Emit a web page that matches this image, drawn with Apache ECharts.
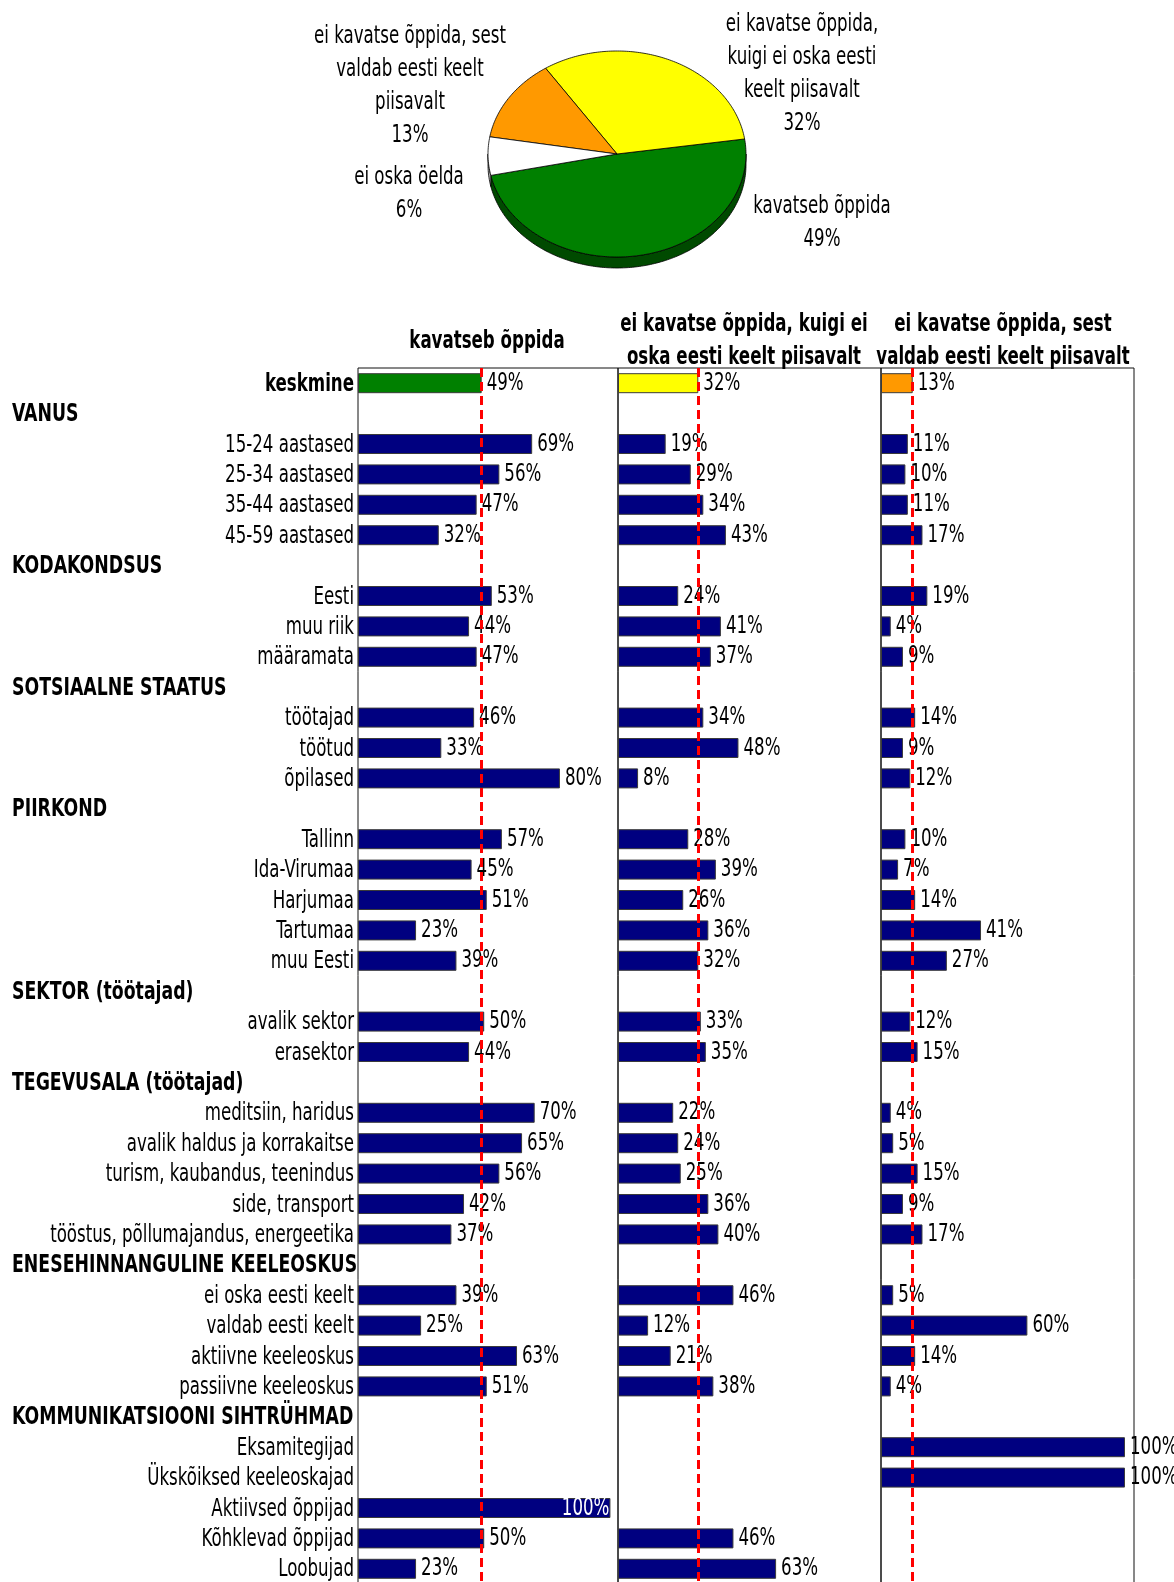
<!DOCTYPE html>
<html>
<head>
<meta charset="utf-8">
<script src="https://cdn.jsdelivr.net/npm/echarts@6/dist/echarts.min.js"></script>
<style>
  html, body { margin: 0; padding: 0; background: #fff; }
  #chart { width: 1174px; height: 1582px; }
</style>
</head>
<body>
<div id="chart"></div>
<script>
// no narrow font installed, so text is drawn condensed by a horizontal scale
const FONT = '"DejaVu Sans Condensed", "Liberation Sans Narrow", sans-serif'
const FONT_SIZE = 25
const TEXT_SCALE = 0.74
const HEADER_SCALE = 0.77

// pie: overall answer
const pieNames = ['kavatseb õppida', 'ei kavatse õppida, kuigi ei oska eesti keelt piisavalt', 'ei kavatse õppida, sest valdab eesti keelt piisavalt', 'ei oska öelda']
const pieLabels = ['kavatseb õppida', 'ei kavatse õppida,\nkuigi ei oska eesti\nkeelt piisavalt', 'ei kavatse õppida, sest\nvaldab eesti keelt\npiisavalt', 'ei oska öelda']
const pieValues = [49, 32, 13, 6]

// bar panels
const panelTitles = ['kavatseb õppida', 'ei kavatse õppida, kuigi ei\noska eesti keelt piisavalt', 'ei kavatse õppida, sest\nvaldab eesti keelt piisavalt']
const headerLabels = ['VANUS', 'KODAKONDSUS', 'SOTSIAALNE STAATUS', 'PIIRKOND', 'SEKTOR (töötajad)', 'TEGEVUSALA (töötajad)', 'ENESEHINNANGULINE KEELEOSKUS', 'KOMMUNIKATSIOONI SIHTRÜHMAD']
const rowLabels = [
  'keskmine',
  'VANUS', '15-24 aastased', '25-34 aastased', '35-44 aastased', '45-59 aastased',
  'KODAKONDSUS', 'Eesti', 'muu riik', 'määramata',
  'SOTSIAALNE STAATUS', 'töötajad', 'töötud', 'õpilased',
  'PIIRKOND', 'Tallinn', 'Ida-Virumaa', 'Harjumaa', 'Tartumaa', 'muu Eesti',
  'SEKTOR (töötajad)', 'avalik sektor', 'erasektor',
  'TEGEVUSALA (töötajad)', 'meditsiin, haridus', 'avalik haldus ja korrakaitse', 'turism, kaubandus, teenindus', 'side, transport', 'tööstus, põllumajandus, energeetika',
  'ENESEHINNANGULINE KEELEOSKUS', 'ei oska eesti keelt', 'valdab eesti keelt', 'aktiivne keeleoskus', 'passiivne keeleoskus',
  'KOMMUNIKATSIOONI SIHTRÜHMAD', 'Eksamitegijad', 'Ükskõiksed keeleoskajad', 'Aktiivsed õppijad', 'Kõhklevad õppijad', 'Loobujad'
]
const planValues = [
  49,
  null, 69, 56, 47, 32,
  null, 53, 44, 47,
  null, 46, 33, 80,
  null, 57, 45, 51, 23, 39,
  null, 50, 44,
  null, 70, 65, 56, 42, 37,
  null, 39, 25, 63, 51,
  null, null, null, 100, 50, 23
]
const notEnoughValues = [
  32,
  null, 19, 29, 34, 43,
  null, 24, 41, 37,
  null, 34, 48, 8,
  null, 28, 39, 26, 36, 32,
  null, 33, 35,
  null, 22, 24, 25, 36, 40,
  null, 46, 12, 21, 38,
  null, null, null, null, 46, 63
]
const fluentValues = [
  13,
  null, 11, 10, 11, 17,
  null, 19, 4, 9,
  null, 14, 9, 12,
  null, 10, 7, 14, 41, 27,
  null, 12, 15,
  null, 4, 5, 15, 9, 17,
  null, 5, 60, 14, 4,
  null, 100, 100, null, null, null
]

const panelValues = [planValues, notEnoughValues, fluentValues]
const avgColors = ['#008000', '#ffff00', '#ff9900']
const NAVY = '#000080'

function scaledText(x, y, text, align, extra, scale) {
  return {
    type: 'text', x, y, scaleX: scale || TEXT_SCALE,
    style: Object.assign({
      text, x: 0, y: 0, fill: '#000', fontFamily: FONT, fontSize: FONT_SIZE,
      align, verticalAlign: 'middle'
    }, extra || {})
  }
}

// pie layout (tilted disc)
const pieCenter = [617, 154]
const pieRadius = [129, 103]
const pieDepth = 11
const pieStartAngle = 192
const pieColors = ['#008000', '#ffff00', '#ff9900', '#ffffff']
const pieSideColors = ['#004a00', '#9a9a00', '#995c00', '#b0b0b0']
const pieLabelOffsets = [[205, 69], [185, -80], [-207, -68], [-208, 40]]

const pieTotal = pieValues.reduce((a, b) => a + b, 0)

function piePoint(deg, dy) {
  const r = deg * Math.PI / 180
  return [pieCenter[0] + pieRadius[0] * Math.cos(r), pieCenter[1] - pieRadius[1] * Math.sin(r) + (dy || 0)]
}

function arc(a0, a1, dy) {
  const pts = []
  const n = Math.max(2, Math.ceil(Math.abs(a1 - a0)))
  for (let k = 0; k <= n; k++) pts.push(piePoint(a0 + (a1 - a0) * k / n, dy))
  return pts
}

function renderPie(params, api) {
  const i = params.dataIndex
  let before = 0
  for (let k = 0; k < i; k++) before += pieValues[k]
  const a0 = pieStartAngle + before / pieTotal * 360
  const a1 = a0 + api.value(0) / pieTotal * 360
  const children = []

  // visible side wall: lower half of the rim
  for (let k = 0; k < 3; k++) {
    const lo = Math.max(a0, 180 + 360 * k)
    const hi = Math.min(a1, 360 + 360 * k)
    if (hi > lo) {
      children.push({
        type: 'polygon',
        shape: { points: arc(lo, hi, 0).concat(arc(hi, lo, pieDepth)) },
        style: { fill: pieSideColors[i], stroke: '#000', lineWidth: 0.8 }
      })
    }
  }

  children.push({
    type: 'polygon',
    shape: { points: [pieCenter.slice()].concat(arc(a0, a1, 0)) },
    style: { fill: pieColors[i], stroke: '#000', lineWidth: 0.8 }
  })

  const off = pieLabelOffsets[i]
  children.push(scaledText(pieCenter[0] + off[0], pieCenter[1] + off[1],
    pieLabels[i] + '\n' + api.value(0) + '%', 'center', { lineHeight: 33 }))
  return { type: 'group', children }
}

const gridBoxes = [
  { left: 358, width: 260, max: 103 },
  { left: 618, width: 263, max: 104.8 },
  { left: 881, width: 253, max: 103.7 }
]

const grid = gridBoxes.map(g => ({
  left: g.left, width: g.width, top: 368, height: 1216,
  show: true, borderColor: '#111', borderWidth: 1, backgroundColor: 'transparent',
  outerBoundsMode: 'none'
}))

const xAxis = gridBoxes.map((g, i) => ({
  type: 'value', gridIndex: i, min: 0, max: g.max, show: false
}))

const yAxis = gridBoxes.map((g, i) => ({
  type: 'category', gridIndex: i, data: rowLabels, inverse: true,
  axisLine: { show: false }, axisTick: { show: false }, splitLine: { show: false },
  axisLabel: { show: false }
}))

const series = []
panelValues.forEach((vals, i) => {
  // dashed average line
  series.push({
    type: 'line', xAxisIndex: i, yAxisIndex: i, data: [], z: 1, silent: true,
    markLine: {
      silent: true, symbol: 'none', animation: false,
      label: { show: false },
      lineStyle: { color: '#ff0000', width: 3, type: [9, 5] },
      data: [{ xAxis: vals[0] }]
    }
  })
  series.push({
    type: 'bar', xAxisIndex: i, yAxisIndex: i, barWidth: 20, z: 2,
    data: vals.map((v, idx) => v == null ? '-' : {
      value: v, itemStyle: { color: idx === 0 ? avgColors[i] : NAVY }
    }),
    itemStyle: { borderColor: '#3a3a3a', borderWidth: 1 }
  })
  // value labels
  series.push({
    type: 'custom', xAxisIndex: i, yAxisIndex: i, silent: true, z: 3,
    data: vals.map((v, idx) => [v, idx]).filter(d => d[0] != null),
    renderItem: (params, api) => {
      const v = api.value(0)
      const p = api.coord([v, api.value(1)])
      // Excel puts the label inside when it would not fit
      if (i === 0 && v >= 100) return scaledText(p[0] - 1, p[1], v + '%', 'right', { fill: '#fff' })
      return scaledText(p[0] + 5, p[1], v + '%', 'left')
    }
  })
})

// row labels, headers flush left
series.push({
  type: 'custom', xAxisIndex: 0, yAxisIndex: 0, silent: true, z: 3,
  data: rowLabels.map((l, idx) => [0, idx]),
  renderItem: (params, api) => {
    const idx = api.value(1)
    const p = api.coord([0, idx])
    const label = rowLabels[idx]
    if (headerLabels.includes(label)) return scaledText(12, p[1] + 1, label, 'left', { fontWeight: 'bold' }, HEADER_SCALE)
    return scaledText(p[0] - 4, p[1] + 1, label, 'right', label === 'keskmine' ? { fontWeight: 'bold' } : {})
  }
})

series.push({
  type: 'custom',
  coordinateSystem: 'none',
  silent: true,
  data: pieValues.map((v, i) => ({ name: pieNames[i], value: [v] })),
  renderItem: renderPie
})

const titleX = [487, 744, 1003]
const graphic = panelTitles.map((t, i) => ({
  type: 'text',
  x: titleX[i],
  y: i === 0 ? 341 : 340.5,
  scaleX: TEXT_SCALE,
  style: {
    text: t, x: 0, y: 0, fill: '#000', fontFamily: FONT, fontSize: FONT_SIZE, fontWeight: 'bold',
    lineHeight: 33, align: 'center', verticalAlign: 'middle'
  }
}))

const chart = echarts.init(document.getElementById('chart'))
chart.setOption({
  animation: false,
  backgroundColor: '#fff',
  grid, xAxis, yAxis, series, graphic
})
</script>
</body>
</html>
